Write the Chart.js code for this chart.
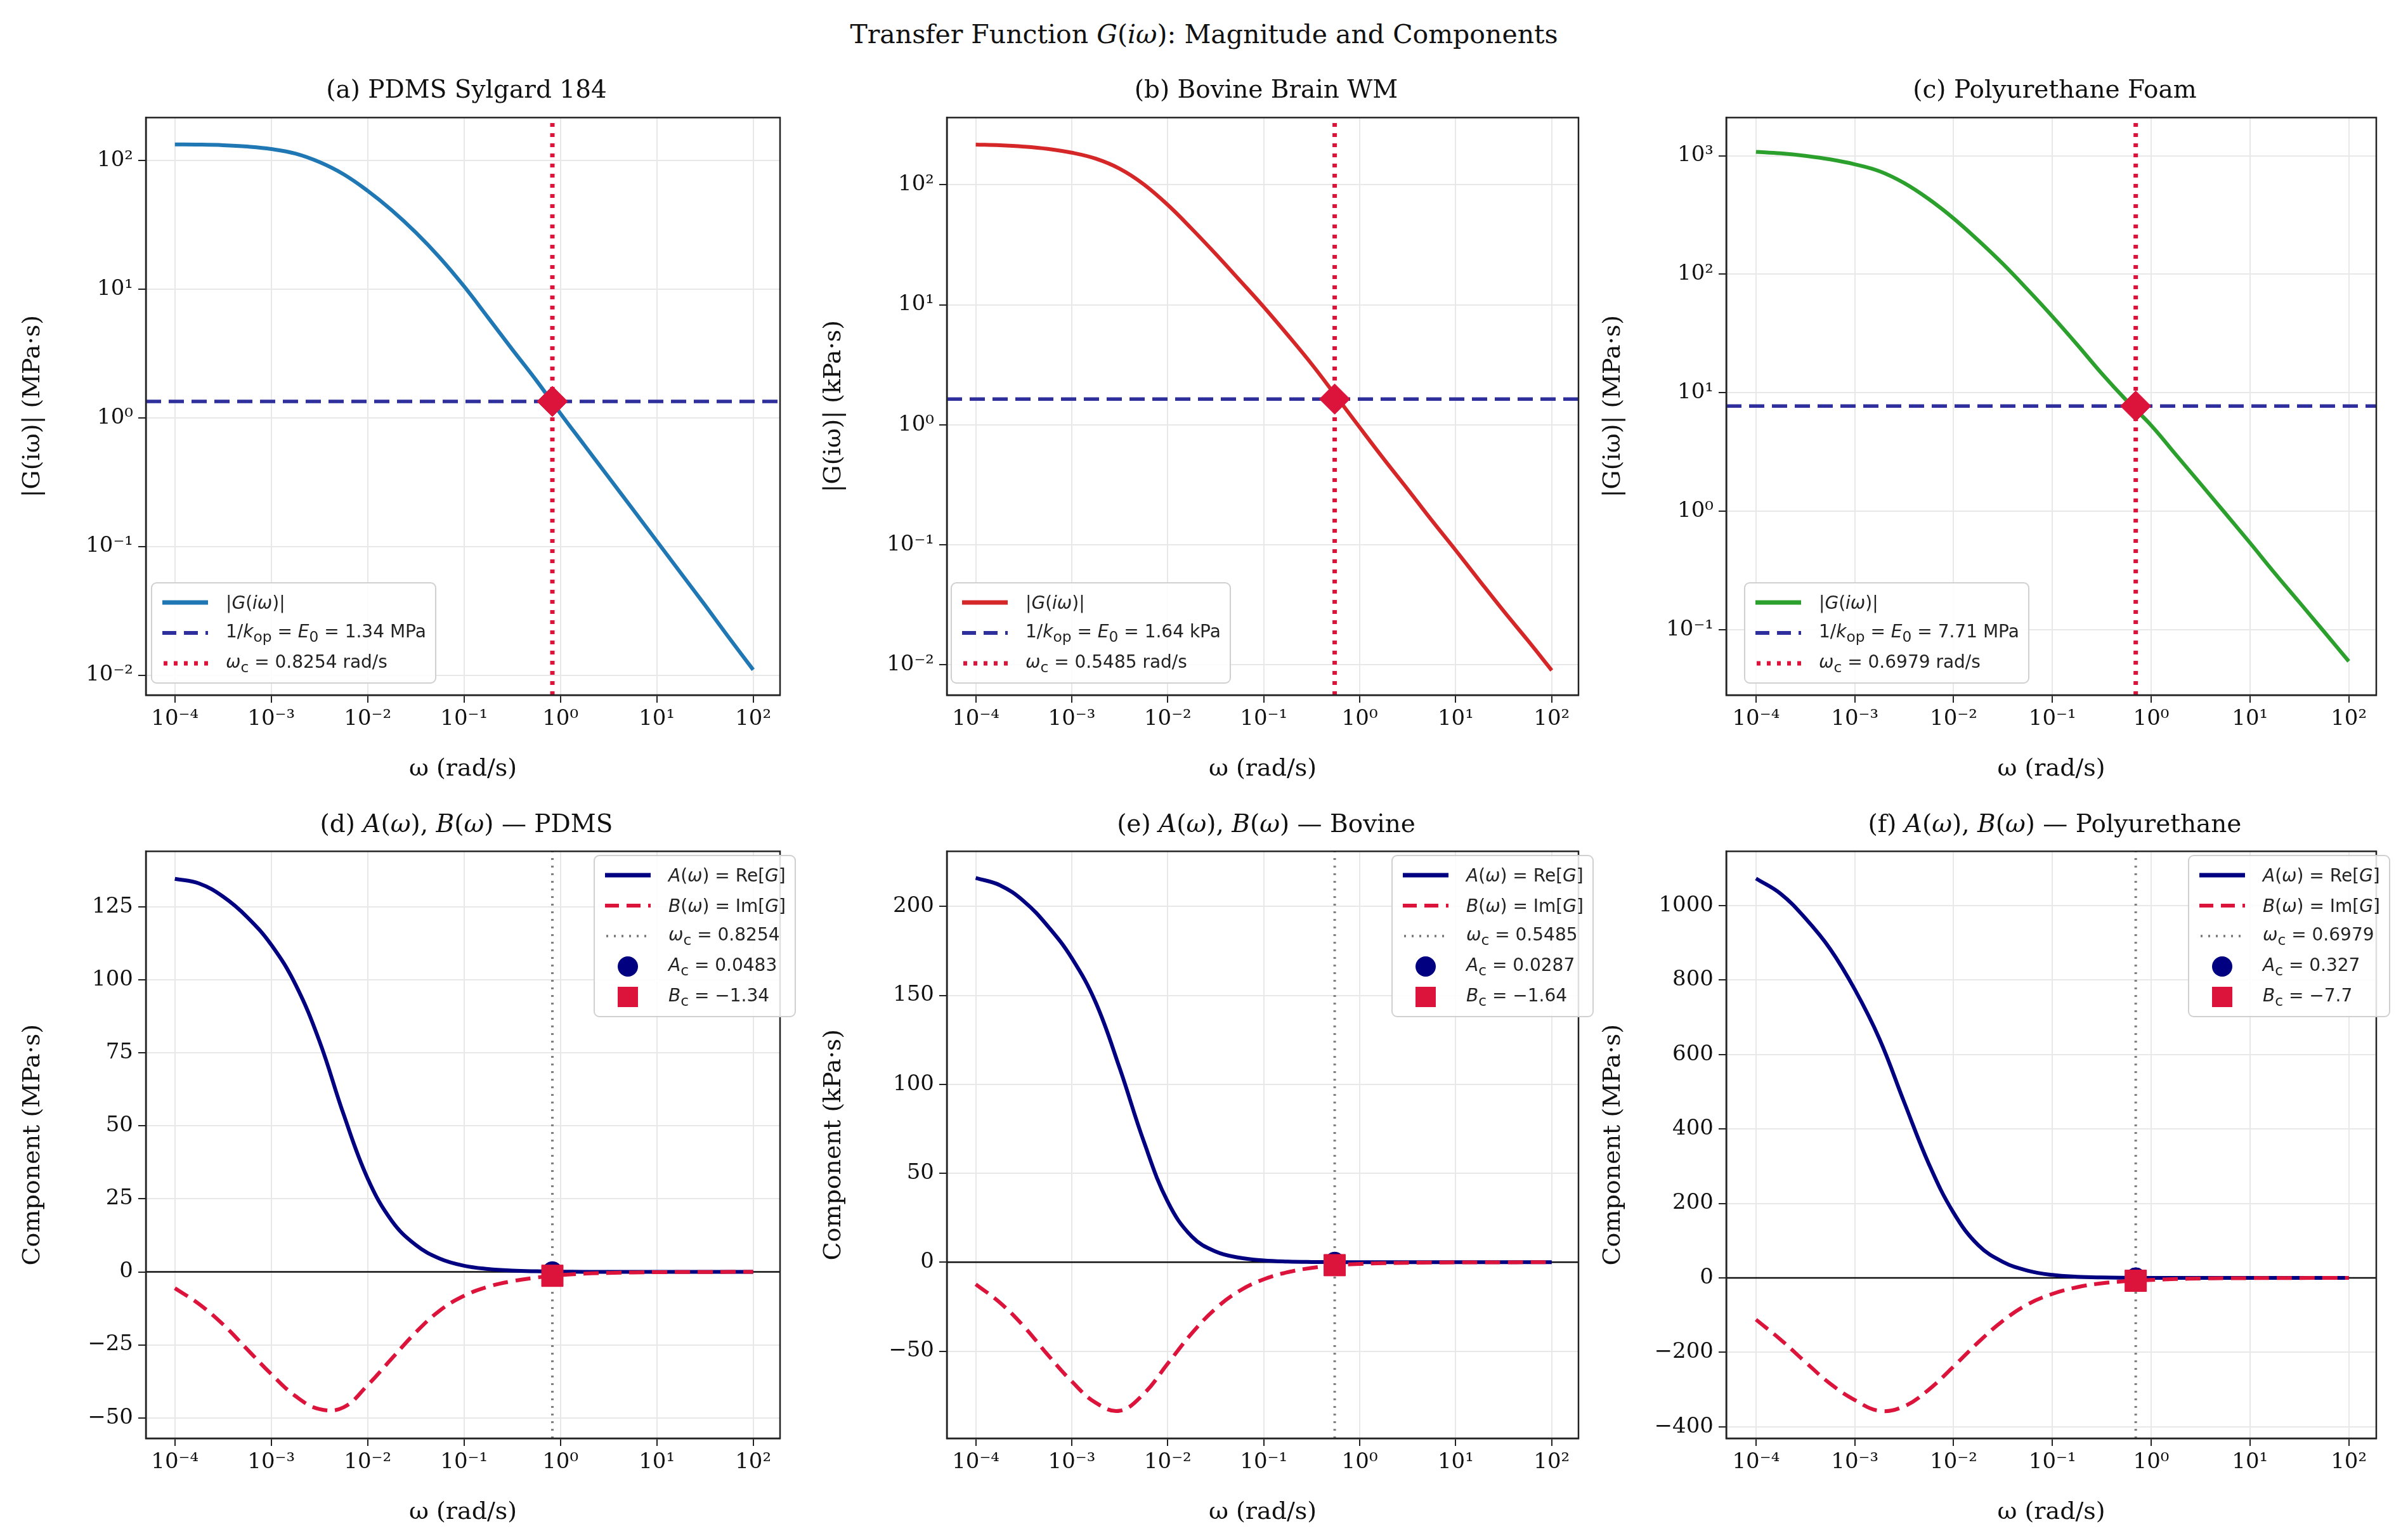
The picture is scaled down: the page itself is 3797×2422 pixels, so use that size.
<!DOCTYPE html>
<html>
<head>
<meta charset="utf-8">
<script src="https://cdn.jsdelivr.net/npm/chart.js"></script>
<style>
  body { margin: 0; background: #fff; width: 3797px; height: 2422px; position: relative; overflow: hidden; font-family: "DejaVu Serif", serif; }
  canvas { position: absolute; }
  .title { position: absolute; text-align: center; font-size: 41px; color: #111; white-space: nowrap; }
  .ptitle { position: absolute; text-align: center; font-size: 39px; color: #111; white-space: nowrap; }
  .legend { position: absolute; background: rgba(255,255,255,0.85); border: 2px solid #d0d0d0; border-radius: 9px; padding: 6px 14px; font-family: "DejaVu Sans", sans-serif; font-size: 28px; color: #222; }
  .legend div { display: flex; align-items: center; height: 48px; white-space: nowrap; }
  .legend svg { margin-right: 26px; flex: none; }
  i { font-style: italic; }
</style>
</head>
<body>
<div class="title" style="left:0;width:3797px;top:30px;">Transfer Function <i>G</i>(<i>iω</i>): Magnitude and Components</div>

<canvas id="ca"></canvas><canvas id="cb"></canvas><canvas id="cc"></canvas>
<canvas id="cd"></canvas><canvas id="ce"></canvas><canvas id="cf"></canvas>

<script>
// frequency grid (rad/s), quarter decades from 1e-4 to 1e2
const omega = [1e-4, 1.778e-4, 3.162e-4, 5.623e-4, 1e-3, 1.778e-3, 3.162e-3, 5.623e-3,
  1e-2, 1.778e-2, 3.162e-2, 5.623e-2, 0.1, 0.1778, 0.3162, 0.5623, 1, 1.778, 3.162, 5.623,
  10, 17.78, 31.62, 56.23, 100];

// (a) PDMS Sylgard 184, MPa·s
const magPDMS = [133, 132.6, 131.2, 128, 122.5, 113, 97, 78, 58, 41, 27.5, 17.5, 10.5, 6.0, 3.4, 1.95, 1.08,
  0.61, 0.345, 0.195, 0.11, 0.062, 0.035, 0.0195, 0.011];
const aPDMS = [134.6, 133, 128.5, 121.5, 112, 98.5, 79, 54, 32, 17.5, 9.2, 4.5, 2.1, 1.0, 0.45, 0.2,
  0.07, 0.025, 0.008, 0.0027, 0.0009, 0.0003, 0.0001, 0.00003, 0.00001];
const bPDMS = [-5.6, -11, -18, -26.5, -35, -42.5, -47, -46.4, -38.8, -29.7, -20.7, -13.2, -8.2, -5.1, -3.2, -1.95,
  -1.1, -0.62, -0.35, -0.2, -0.11, -0.062, -0.035, -0.02, -0.011];

// (b) Bovine Brain WM, kPa·s
const magBovine = [216, 213.5, 208, 199, 185, 165, 136, 101, 68, 43, 26.5, 16, 9.6, 5.6, 3.2, 1.75,
  0.95, 0.52, 0.29, 0.16, 0.09, 0.05, 0.028, 0.016, 0.009];
const aBovine = [216, 212, 203, 189, 171, 146, 109, 68, 34, 14.5, 6, 2.5, 1.0, 0.4, 0.15, 0.05, 0.018,
  0.006, 0.002, 0.0007, 0.0002, 0.00007, 0.00002, 0.00001, 0.000003];
const bBovine = [-12.4, -22.6, -36, -52, -67, -79, -83.5, -74, -57, -40, -26, -16, -9.6, -5.6, -3.2, -1.75,
  -0.95, -0.52, -0.29, -0.16, -0.09, -0.05, -0.028, -0.016, -0.009];

// (c) Polyurethane Foam, MPa·s
const magPoly = [1079, 1048, 998, 932, 847, 740, 588, 430, 296, 193, 122, 74, 44, 25.5, 14.5, 8.6, 5.3,
  3.0, 1.7, 0.96, 0.54, 0.3, 0.17, 0.096, 0.054];
const aPoly = [1073, 1032, 966, 884, 775, 642, 472, 306, 175, 88, 43, 19.5, 8, 3.2, 1.2, 0.45, 0.16,
  0.06, 0.02, 0.007, 0.0025, 0.0008, 0.0003, 0.0001, 0.00003];
const bPoly = [-112, -166, -226, -284, -328, -357, -345, -300, -238, -173, -115, -71, -43, -25, -14.5, -8.6,
  -5.3, -3.0, -1.7, -0.96, -0.54, -0.3, -0.17, -0.096, -0.054];

// crossover values: [omega_c, E0, A_c, B_c]
const critPDMS = [0.8254, 1.34, 0.0483, -1.34];
const critBovine = [0.5485, 1.64, 0.0287, -1.64];
const critPoly = [0.6979, 7.71, 0.327, -7.7];

const xDecades = [-4, -3, -2, -1, 0, 1, 2];
const ticksPDMS = [-50, -25, 0, 25, 50, 75, 100, 125];
const ticksBovine = [-50, 0, 50, 100, 150, 200];
const ticksPoly = [-400, -200, 0, 200, 400, 600, 800, 1000];

const NAVY_DASH = '#2e2e9c', CRIMSON = '#dc143c', NAVY = '#000080', GRAY = '#808080';
const SUP = {'-': '⁻', '0': '⁰', '1': '¹', '2': '²', '3': '³', '4': '⁴'};
const pow10 = e => '10' + String(e).split('').map(c => SUP[c]).join('');

const YW = 205, XH = 140, TOP = 24, RIGHT = 14;

function pts(ys) { return omega.map((x, i) => ({ x: x, y: ys[i] })); }

function place(id, plot) {
  const c = document.getElementById(id);
  c.width = plot.w + YW + RIGHT;
  c.height = plot.h + XH + TOP;
  c.style.left = (plot.x - YW) + 'px';
  c.style.top = (plot.y - TOP) + 'px';
  return c;
}

// full box around the plot area, as in matplotlib
const frame = {
  id: 'frame',
  afterDraw(chart) {
    const a = chart.chartArea, ctx = chart.ctx;
    ctx.save();
    ctx.strokeStyle = '#222';
    ctx.lineWidth = 2.5;
    ctx.strokeRect(a.left, a.top, a.right - a.left, a.bottom - a.top);
    ctx.restore();
  }
};

function xScale() {
  return {
    type: 'logarithmic', min: 5e-5, max: 190,
    afterBuildTicks: s => { s.ticks = xDecades.map(e => ({ value: Math.pow(10, e) })); },
    afterFit: s => { s.height = XH; },
    ticks: { callback: v => pow10(Math.round(Math.log10(v))), font: { family: 'DejaVu Serif', size: 34 }, color: '#111', maxRotation: 0, padding: 6 },
    grid: { color: '#e8e8e8', lineWidth: 2, tickLength: 12, tickColor: '#222' },
    border: { color: '#222', width: 2.5 },
    title: { display: true, text: 'ω (rad/s)', font: { family: 'DejaVu Serif', size: 38 }, color: '#111', padding: { top: 4, bottom: 0 } }
  };
}

function yScale(opts) {
  const s = {
    afterFit: sc => { sc.width = YW; },
    ticks: { font: { family: 'DejaVu Serif', size: 34 }, color: '#111', padding: 8 },
    grid: { color: '#e8e8e8', lineWidth: 2, tickLength: 12, tickColor: '#222' },
    border: { color: '#222', width: 2.5 },
    title: { display: true, text: opts.label, font: { family: 'DejaVu Serif', size: 38 }, color: '#111', padding: { bottom: 4 } },
    min: opts.min, max: opts.max
  };
  if (opts.log) {
    s.type = 'logarithmic';
    s.afterBuildTicks = sc => { sc.ticks = opts.decades.map(e => ({ value: Math.pow(10, e) })); };
    s.ticks.callback = v => pow10(Math.round(Math.log10(v)));
  } else {
    s.type = 'linear';
    s.afterBuildTicks = sc => { sc.ticks = opts.ticks.map(v => ({ value: v })); };
    s.ticks.callback = v => String(v).replace('-', '−');
  }
  return s;
}

function makeChart(id, plot, datasets, yopts) {
  const c = place(id, plot);
  return new Chart(c.getContext('2d'), {
    type: 'line',
    data: { datasets: datasets },
    plugins: [frame],
    options: {
      responsive: false, animation: false, devicePixelRatio: 1,
      layout: { padding: { top: TOP, right: RIGHT, left: 0, bottom: 0 } },
      plugins: { legend: { display: false }, tooltip: { enabled: false } },
      scales: { x: xScale(), y: yScale(yopts) }
    }
  });
}

const curve = { pointRadius: 0, tension: 0.4 };

function magSets(mag, crit, color, ymin, ymax) {
  return [
    { data: [{ x: crit[0], y: crit[1] }], showLine: false, pointStyle: 'rectRot', pointRadius: 24, backgroundColor: CRIMSON, borderColor: CRIMSON, order: 0 },
    Object.assign({ data: pts(mag), borderColor: color, borderWidth: 6, order: 2 }, curve),
    { data: [{ x: 5e-5, y: crit[1] }, { x: 190, y: crit[1] }], borderColor: NAVY_DASH, borderWidth: 5.5, borderDash: [24, 12], pointRadius: 0, order: 1 },
    { data: [{ x: crit[0], y: ymin }, { x: crit[0], y: ymax }], borderColor: CRIMSON, borderWidth: 7, borderDash: [6, 10], pointRadius: 0, order: 1 }
  ];
}

function compSets(a, b, crit, ymin, ymax) {
  return [
    { data: [{ x: crit[0], y: crit[3] }], showLine: false, pointStyle: 'rect', pointRadius: 24, backgroundColor: CRIMSON, borderColor: CRIMSON, order: 0 },
    { data: [{ x: crit[0], y: crit[2] }], showLine: false, pointStyle: 'circle', pointRadius: 16, backgroundColor: NAVY, borderColor: NAVY, order: 1 },
    Object.assign({ data: pts(b), borderColor: CRIMSON, borderWidth: 6, borderDash: [24, 12], order: 2 }, curve),
    Object.assign({ data: pts(a), borderColor: NAVY, borderWidth: 6, order: 3 }, curve),
    { data: [{ x: 5e-5, y: 0 }, { x: 190, y: 0 }], borderColor: '#111', borderWidth: 2.5, pointRadius: 0, order: 4 },
    { data: [{ x: crit[0], y: ymin }, { x: crit[0], y: ymax }], borderColor: GRAY, borderWidth: 4, borderDash: [3, 9], pointRadius: 0, order: 5 }
  ];
}

const top1 = 181, h1 = 915, top2 = 1338, h2 = 930;
const cols = [{ x: 230, w: 1011 }, { x: 1493, w: 1007 }, { x: 2722, w: 1036 }];

makeChart('ca', { x: cols[0].x, w: cols[0].w, y: top1, h: h1 }, magSets(magPDMS, critPDMS, '#1f77b4', 0.007, 215),
  { log: true, min: 0.007, max: 215, decades: [-2, -1, 0, 1, 2], label: '|G(iω)| (MPa·s)' });
makeChart('cb', { x: cols[1].x, w: cols[1].w, y: top1, h: h1 }, magSets(magBovine, critBovine, '#d62728', 0.0056, 363),
  { log: true, min: 0.0056, max: 363, decades: [-2, -1, 0, 1, 2], label: '|G(iω)| (kPa·s)' });
makeChart('cc', { x: cols[2].x, w: cols[2].w, y: top1, h: h1 }, magSets(magPoly, critPoly, '#2ca02c', 0.028, 2100),
  { log: true, min: 0.028, max: 2100, decades: [-1, 0, 1, 2, 3], label: '|G(iω)| (MPa·s)' });
makeChart('cd', { x: cols[0].x, w: cols[0].w, y: top2, h: h2 }, compSets(aPDMS, bPDMS, critPDMS, -57, 144),
  { min: -57, max: 144, ticks: ticksPDMS, label: 'Component (MPa·s)' });
makeChart('ce', { x: cols[1].x, w: cols[1].w, y: top2, h: h2 }, compSets(aBovine, bBovine, critBovine, -99, 231),
  { min: -99, max: 231, ticks: ticksBovine, label: 'Component (kPa·s)' });
makeChart('cf', { x: cols[2].x, w: cols[2].w, y: top2, h: h2 }, compSets(aPoly, bPoly, critPoly, -431, 1146),
  { min: -431, max: 1146, ticks: ticksPoly, label: 'Component (MPa·s)' });

// panel titles
const titles = [
  ['(a) PDMS Sylgard 184', 0, 118], ['(b) Bovine Brain WM', 1, 118], ['(c) Polyurethane Foam', 2, 118],
  ['(d) <i>A</i>(<i>ω</i>), <i>B</i>(<i>ω</i>) — PDMS', 0, 1276], ['(e) <i>A</i>(<i>ω</i>), <i>B</i>(<i>ω</i>) — Bovine', 1, 1276],
  ['(f) <i>A</i>(<i>ω</i>), <i>B</i>(<i>ω</i>) — Polyurethane', 2, 1276]
];
titles.forEach(t => {
  const d = document.createElement('div');
  d.className = 'ptitle';
  d.innerHTML = t[0];
  d.style.left = cols[t[1]].x + 'px';
  d.style.width = cols[t[1]].w + 'px';
  d.style.top = t[2] + 'px';
  document.body.appendChild(d);
});

// legends
function sample(kind, color) {
  if (kind === 'solid') return `<svg width="76" height="14"><line x1="2" y1="7" x2="74" y2="7" stroke="${color}" stroke-width="7"/></svg>`;
  if (kind === 'dash') return `<svg width="76" height="14"><line x1="2" y1="7" x2="74" y2="7" stroke="${color}" stroke-width="6" stroke-dasharray="22 12"/></svg>`;
  if (kind === 'dot') return `<svg width="76" height="14"><line x1="4" y1="7" x2="74" y2="7" stroke="${color}" stroke-width="${color === GRAY ? 4 : 7}" stroke-dasharray="${color === GRAY ? '3 9' : '6 10'}"/></svg>`;
  if (kind === 'circle') return `<svg width="76" height="36"><circle cx="38" cy="18" r="16" fill="${color}"/></svg>`;
  return `<svg width="76" height="36"><rect x="22" y="2" width="32" height="32" fill="${color}"/></svg>`;
}
function legend(x, y, rows) {
  const d = document.createElement('div');
  d.className = 'legend';
  d.style.left = x + 'px';
  d.style.top = y + 'px';
  d.innerHTML = rows.map(r => `<div>${sample(r[0], r[1])}<span>${r[2]}</span></div>`).join('');
  document.body.appendChild(d);
}
function magLegend(x, y, color, crit, unit) {
  legend(x, y, [
    ['solid', color, '|<i>G</i>(<i>iω</i>)|'],
    ['dash', NAVY_DASH, `1/<i>k</i><sub>op</sub> = <i>E</i><sub>0</sub> = ${crit[1]} ${unit}`],
    ['dot', CRIMSON, `<i>ω</i><sub>c</sub> = ${crit[0]} rad/s`]
  ]);
}
function compLegend(x, y, crit) {
  legend(x, y, [
    ['solid', NAVY, '<i>A</i>(<i>ω</i>) = Re[<i>G</i>]'],
    ['dash', CRIMSON, '<i>B</i>(<i>ω</i>) = Im[<i>G</i>]'],
    ['dot', GRAY, `<i>ω</i><sub>c</sub> = ${crit[0]}`],
    ['circle', NAVY, `<i>A</i><sub>c</sub> = ${crit[2]}`],
    ['square', CRIMSON, `<i>B</i><sub>c</sub> = ${String(crit[3]).replace('-', '−')}`]
  ]);
}
magLegend(238, 918, '#1f77b4', critPDMS, 'MPa');
magLegend(1499, 918, '#d62728', critBovine, 'kPa');
magLegend(2750, 918, '#2ca02c', critPoly, 'MPa');
compLegend(936, 1348, critPDMS);
compLegend(2194, 1348, critBovine);
compLegend(3450, 1348, critPoly);
</script>
</body>
</html>
